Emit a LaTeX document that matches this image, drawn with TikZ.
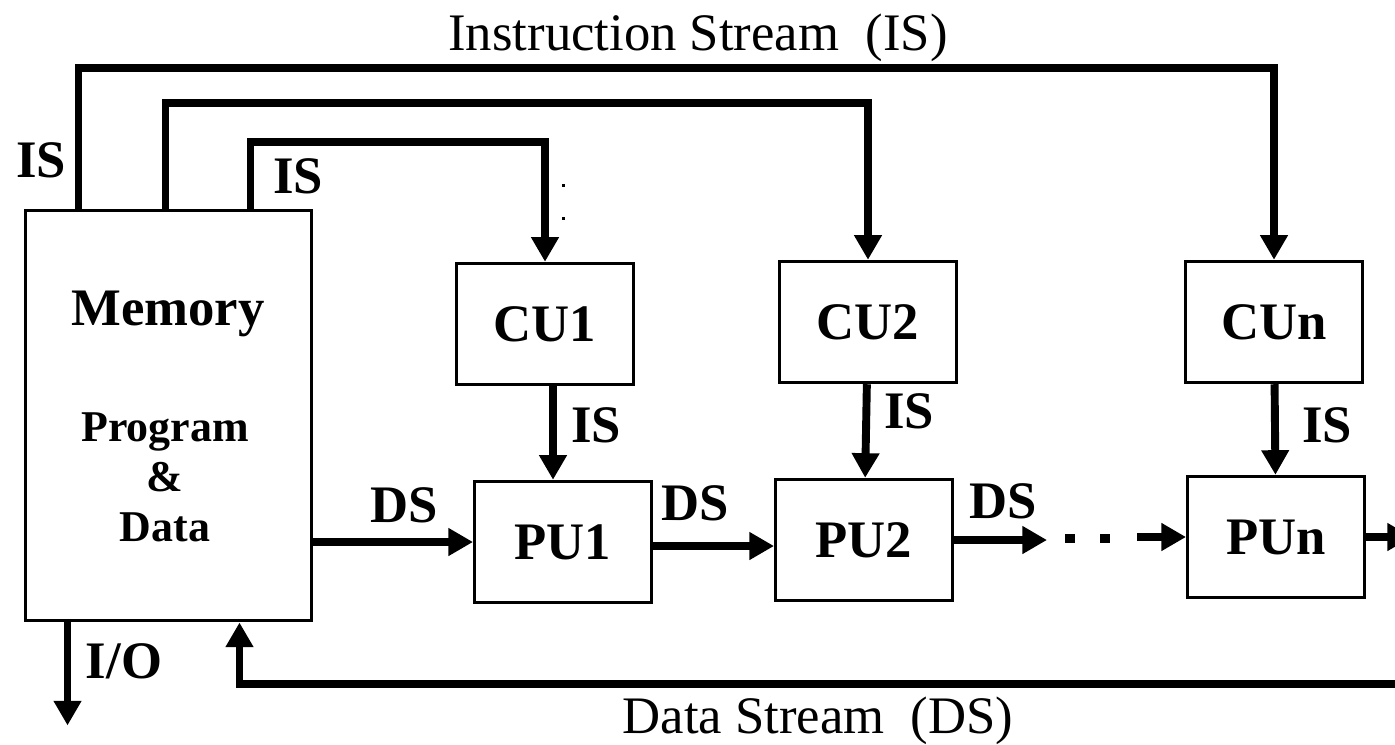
\documentclass[tikz,border=0pt]{standalone}
\usepackage{fontspec}
\setmainfont{Liberation Serif}
\usetikzlibrary{arrows.meta}
\begin{document}
\begin{tikzpicture}[
		x={(0.02cm,0cm)},
		y={(0cm,-0.02cm)},
		unit/.style={draw,line width=1.7pt,minimum width=3.54cm,minimum height=2.43cm,inner sep=0pt,font=\fontsize{30}{36}\selectfont\bfseries},
		bus/.style={line width=4.5pt,-{Triangle[width=15pt,length=14pt]}},
		lbl/.style={anchor=base,inner sep=0pt,font=\fontsize{30}{36}\selectfont\bfseries},
		title/.style={anchor=base,inner sep=0pt,font=\fontsize{30}{36}\selectfont},
	]
		\useasboundingbox (0,0) rectangle (1395,744);
		\clip (0,0) rectangle (1395,744);
		
		% memory
		\node[draw,line width=1.7pt,minimum width=5.74cm,minimum height=8.22cm,inner sep=0pt] (mem) at (168.5,415.5) {};
		\node[lbl] (memtxt) at (168,325) {Memory};
		\node[anchor=north,inner sep=0pt,align=center,font=\fontsize{25}{28.5}\selectfont\bfseries] (progtxt) at (165,412) {Program\\\&\\Data};
		
		% control and processing units
		\node[unit] (cu1) at (545,324) {CU1};
		\node[unit] (cu2) at (868,322) {CU2};
		\node[unit] (cun) at (1274,322) {CUn};
		\node[unit] (pu1) at (563,542) {PU1};
		\node[unit] (pu2) at (864,540) {PU2};
		\node[unit] (pun) at (1276,537) {PUn};
		
		% instruction streams
		\draw[bus] ([xshift=1.1cm]mem.north west) -- ++(0,-141) -| (cun);
		\draw[bus] ([xshift=2.84cm]mem.north west) -- ++(0,-106) -| (cu2);
		\draw[bus] ([xshift=4.54cm]mem.north west) -- ++(0,-67) -| (cu1);
		\fill (562,184) rectangle (565,187);
		\fill (562,217) rectangle (565,220);
		\draw[bus] (cu1.south -| 553,0) -- (pu1.north -| 553,0);
		\draw[bus] (cu2) -- (pu2);
		\draw[bus] (cun) -- (pun);
		
		% data streams
		\coordinate (dsa) at (1047,540);
		\coordinate (dsb) at (1137,537);
		\coordinate (pout) at (1412,537);
		\coordinate (dsr) at (1400,684);
		\draw[bus] (mem.east |- pu1) -- (pu1);
		\draw[bus] (pu1.east |- 0,546) -- (pu2.west |- 0,546);
		\draw[bus] (pu2) -- (dsa);
		\fill (1065,534) rectangle (1075,543);
		\fill (1100,534) rectangle (1110,543);
		\draw[bus] (dsb) -- (pun);
		\draw[bus] (pun) -- (pout);
		\draw[bus] (dsr) -| ([xshift=4.32cm]mem.south west);
		\draw[bus] ([xshift=0.88cm]mem.south west) -- ++(0,103);
		
		% labels
		\node[title] (istitle) at (698,50) {Instruction Stream\ \ (IS)};
		\node[title] (dstitle) at (818,733) {Data Stream\ \ (DS)};
		\node[lbl] (is0) at (41,177) {IS};
		\node[lbl] (is1) at (298,193) {IS};
		\node[lbl] (is2) at (596,442) {IS};
		\node[lbl] (is3) at (909,428) {IS};
		\node[lbl] (is4) at (1327,442) {IS};
		\node[lbl] (ds1) at (404,522) {DS};
		\node[lbl] (ds2) at (695,520) {DS};
		\node[lbl] (ds3) at (1003,518) {DS};
		\node[lbl] (io) at (124,678) {I/O};
	\end{tikzpicture}
\end{document}
